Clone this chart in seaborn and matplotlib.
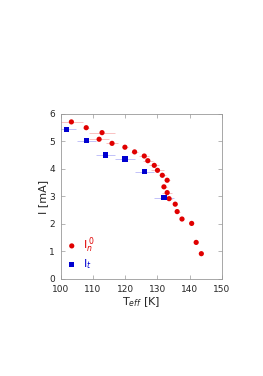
import matplotlib
matplotlib.use("Agg")
import matplotlib.pyplot as plt
import seaborn as sns
import pandas as pd

sns.set_style("ticks")
plt.rcParams["font.family"] = ["DejaVu Sans"]

red_T = [103.3, 107.9, 112.8, 111.9, 115.9, 119.9, 122.9, 125.9, 127.0, 129.0, 130.0,
         131.5, 133.0, 132.0, 133.0, 133.6, 135.5, 136.1, 137.6, 140.6, 142.0, 143.6]
red_I = [5.71, 5.50, 5.32, 5.08, 4.93, 4.79, 4.62, 4.47, 4.30, 4.13, 3.95,
         3.77, 3.59, 3.35, 3.14, 2.92, 2.72, 2.45, 2.18, 2.02, 1.33, 0.92]
red_err = [3.5, 1.0, 4.0, 3.0, 2.0, 1.0, 1.0, 1.5, 1.5, 1.5, 2.0,
           1.0, 1.0, 1.0, 1.5, 1.0, 0.5, 0.8, 0.5, 0.3, 0.3, 0.3]

blue_T = [101.8, 107.9, 113.8, 119.9, 125.9, 132.0]
blue_I = [5.44, 5.03, 4.51, 4.36, 3.90, 2.95]
blue_err = [3.0, 3.0, 3.0, 3.0, 3.0, 3.0]

df_red = pd.DataFrame({"T": red_T, "I": red_I})
df_blue = pd.DataFrame({"T": blue_T, "I": blue_I})

fig = plt.figure(figsize=(2.63, 3.76), dpi=100)
ax = fig.add_axes([0.231, 0.258, 0.613, 0.439])

ax.errorbar(red_T, red_I, xerr=red_err, fmt="none", ecolor="#f8b8b8", elinewidth=0.6, capsize=0)
ax.errorbar(blue_T, blue_I, xerr=blue_err, fmt="none", ecolor="#b8b8f8", elinewidth=0.6, capsize=0)
sns.scatterplot(data=df_red, x="T", y="I", ax=ax, color="#e00000", marker="o", s=14,
                edgecolor="none", label=r"$\mathsf{I}_{n}^{\ 0}$", zorder=3)
sns.scatterplot(data=df_blue, x="T", y="I", ax=ax, color="#0000d0", marker="s", s=14,
                edgecolor="none", label=r"$\mathsf{I}_{t}$", zorder=3)

ax.set_xlim(100, 150)
ax.set_ylim(0, 6)
ax.set_xticks([100, 110, 120, 130, 140, 150])
ax.set_yticks(range(0, 7))
ax.tick_params(direction="in", length=3, width=0.5, color="#999999", labelsize=6.5,
               top=True, right=True)
ax.tick_params(axis="x", pad=4)
ax.tick_params(axis="y", pad=4)
for sp in ax.spines.values():
    sp.set_color("#999999")
    sp.set_linewidth(0.6)

ax.set_xlabel(r"T$_{eff}$ [K]", fontsize=8, labelpad=1)
ax.set_ylabel("I [mA]", fontsize=8, labelpad=1)

leg = ax.legend(loc="lower left", frameon=False, fontsize=8, handletextpad=0.7,
                handlelength=0.6, labelspacing=0.2, borderaxespad=0,
                bbox_to_anchor=(0.02, 0.02), labelcolor="markerfacecolor")

plt.savefig("out.png", dpi=100)
